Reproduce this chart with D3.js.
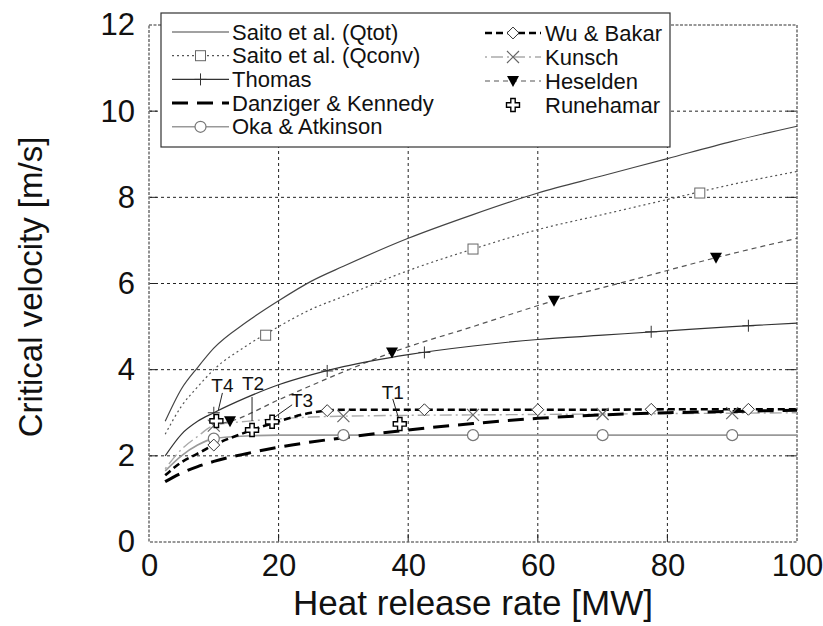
<!DOCTYPE html>
<html>
<head>
<meta charset="utf-8">
<script src="https://cdn.jsdelivr.net/npm/d3@7"></script>
<style>
  body { margin: 0; background: #fff; }
  text { font-family: "Liberation Sans", Arial, sans-serif; fill: #111; }
</style>
</head>
<body>
<div id="chart"></div>
<script>
// values
var heatX      = [2.5, 5, 7.5, 10, 15, 20, 25, 30, 40, 50, 60, 70, 80, 90, 100];
var saitoTot   = [2.8, 3.55, 4.05, 4.5, 5.1, 5.6, 6.05, 6.4, 7.05, 7.6, 8.1, 8.5, 8.9, 9.3, 9.65];
var saitoConv  = [2.5, 3.15, 3.6, 4.0, 4.55, 5.0, 5.4, 5.7, 6.3, 6.8, 7.25, 7.6, 7.95, 8.3, 8.6];
var thomas     = [2.0, 2.5, 2.8, 3.0, 3.35, 3.65, 3.88, 4.07, 4.35, 4.55, 4.7, 4.8, 4.9, 5.0, 5.08];
var danziger   = [1.4, 1.6, 1.75, 1.87, 2.05, 2.2, 2.32, 2.42, 2.6, 2.75, 2.87, 2.95, 3.0, 3.03, 3.06];
var wuBakar    = [1.55, 1.85, 2.05, 2.25, 2.55, 2.8, 3.0, 3.07, 3.07, 3.07, 3.07, 3.07, 3.08, 3.08, 3.08];
var kunsch     = [1.7, 2.15, 2.45, 2.7, 2.8, 2.86, 2.9, 2.92, 2.94, 2.95, 2.96, 2.97, 2.98, 2.99, 3.0];
var oka        = [1.65, 2.0, 2.25, 2.4, 2.46, 2.48, 2.48, 2.48, 2.48, 2.48, 2.48, 2.48, 2.48, 2.48, 2.48];

var heseldenX  = [10, 12.5, 20, 30, 37.5, 50, 62.5, 75, 87.5, 100];
var heselden   = [2.72, 2.8, 3.3, 3.95, 4.4, 5.0, 5.6, 6.1, 6.6, 7.05];

// marker positions
var convMarkX  = [18, 50, 85],                     convMarkY  = [4.8, 6.8, 8.1];
var thomasMarkX = [10, 27.5, 42.5, 77.5, 92.5],    thomasMarkY = [3.0, 3.97, 4.4, 4.88, 5.02];
var wuMarkX    = [10, 27.5, 42.5, 60, 77.5, 92.5], wuMarkY    = [2.25, 3.05, 3.07, 3.07, 3.08, 3.08];
var kunschMarkX = [10, 30, 50, 70, 90],            kunschMarkY = [2.7, 2.92, 2.95, 2.97, 2.99];
var heseldenMarkX = [12.5, 37.5, 62.5, 87.5],      heseldenMarkY = [2.8, 4.4, 5.6, 6.6];
var okaMarkX   = [10, 30, 50, 70, 90],             okaMarkY   = [2.4, 2.48, 2.48, 2.48, 2.48];

var runeNames = ["T1", "T2", "T3", "T4"];
var runeX     = [38.7, 15.9, 19, 10.4];
var runeY     = [2.74, 2.6, 2.79, 2.81];

var xTicks = [0, 20, 40, 60, 80, 100];
var yTicks = [0, 2, 4, 6, 8, 10, 12];

// set the dimensions and margins of the graph
var margin = {top: 25, right: 26, bottom: 84, left: 149},
    width = 823 - margin.left - margin.right,
    height = 626 - margin.top - margin.bottom;

var svg0 = d3.select("#chart")
  .append("svg")
    .attr("width", 823)
    .attr("height", 626);
var svg = svg0.append("g")
    .attr("transform", "translate(" + margin.left + "," + margin.top + ")");

var x = d3.scaleLinear().domain([0, 100]).range([0, width]);
var y = d3.scaleLinear().domain([0, 12]).range([height, 0]);

// grid
svg.selectAll(".vgrid")
  .data(xTicks.slice(1, -1))
  .enter().append("line")
    .attr("x1", function(d) { return x(d); })
    .attr("x2", function(d) { return x(d); })
    .attr("y1", 0).attr("y2", height)
    .attr("stroke", "#222").attr("stroke-width", 1)
    .attr("stroke-dasharray", "3,3");
svg.selectAll(".hgrid")
  .data(yTicks.slice(1, -1))
  .enter().append("line")
    .attr("y1", function(d) { return y(d); })
    .attr("y2", function(d) { return y(d); })
    .attr("x1", 0).attr("x2", width)
    .attr("stroke", "#222").attr("stroke-width", 1)
    .attr("stroke-dasharray", "3,3");

// inner ticks on all sides
yTicks.slice(1, -1).forEach(function(t) {
  svg.append("line").attr("x1", 0).attr("x2", 8).attr("y1", y(t)).attr("y2", y(t)).attr("stroke", "#222");
  svg.append("line").attr("x1", width - 10).attr("x2", width).attr("y1", y(t)).attr("y2", y(t)).attr("stroke", "#222");
});
xTicks.slice(1, -1).forEach(function(t) {
  svg.append("line").attr("y1", height).attr("y2", height - 8).attr("x1", x(t)).attr("x2", x(t)).attr("stroke", "#222");
  svg.append("line").attr("y1", 0).attr("y2", 8).attr("x1", x(t)).attr("x2", x(t)).attr("stroke", "#222");
});

// frame
svg.append("rect")
  .attr("x", 0).attr("y", 0)
  .attr("width", width).attr("height", height)
  .attr("fill", "none")
  .attr("stroke", "#777").attr("stroke-width", 1.6)
  .attr("stroke-dasharray", "3,1.5");

// axis labels (from d3 axes, domain hidden)
var xAxis = svg.append("g")
  .attr("transform", "translate(0," + height + ")")
  .call(d3.axisBottom(x).tickValues(xTicks).tickSize(0).tickPadding(12));
xAxis.select(".domain").remove();
xAxis.selectAll("text").style("font-size", "31px").attr("fill", "#111").attr("dy", "0.72em")
  .attr("font-family", "Liberation Sans, Arial, sans-serif");

var yAxis = svg.append("g")
  .call(d3.axisLeft(y).tickValues(yTicks).tickSize(0).tickPadding(14));
yAxis.select(".domain").remove();
yAxis.selectAll("text").style("font-size", "31px").attr("fill", "#111")
  .attr("font-family", "Liberation Sans, Arial, sans-serif");

svg0.append("text")
  .attr("x", margin.left + width / 2).attr("y", 615)
  .style("text-anchor", "middle")
  .style("font-size", "35px")
  .text("Heat release rate [MW]");

svg0.append("text")
  .attr("transform", "translate(42," + 287 + ") rotate(-90)")
  .style("text-anchor", "middle")
  .style("font-size", "33px")
  .text("Critical velocity [m/s]");

// curves
function curve(xs, ys) {
  return d3.line()
    .x(function(d, i) { return x(xs[i]); })
    .y(function(d) { return y(d); })
    .curve(d3.curveMonotoneX)(ys);
}

var plot = svg.append("g");

var styles = {
  tot:      {stroke: "#444", width: 1.2, dash: null},
  conv:     {stroke: "#555", width: 1.2, dash: "2,3"},
  thomas:   {stroke: "#333", width: 1.2, dash: null},
  danziger: {stroke: "#000", width: 3,   dash: "16,9"},
  oka:      {stroke: "#999", width: 1.6, dash: null},
  wu:       {stroke: "#000", width: 2.6, dash: "7,4"},
  kunsch:   {stroke: "#aaa", width: 1.4, dash: "2,4,12,4"},
  heselden: {stroke: "#555", width: 1.2, dash: "5,4"}
};

function drawLine(xs, ys, st) {
  plot.append("path")
    .attr("d", curve(xs, ys))
    .attr("fill", "none")
    .attr("stroke", st.stroke)
    .attr("stroke-width", st.width)
    .attr("stroke-dasharray", st.dash);
}

drawLine(heatX, oka, styles.oka);
drawLine(heatX, kunsch, styles.kunsch);
drawLine(heatX, danziger, styles.danziger);
drawLine(heatX, wuBakar, styles.wu);
drawLine(heseldenX, heselden, styles.heselden);
drawLine(heatX, thomas, styles.thomas);
drawLine(heatX, saitoConv, styles.conv);
drawLine(heatX, saitoTot, styles.tot);

// marker drawers
function square(g, cx, cy) {
  g.append("rect").attr("x", cx - 5).attr("y", cy - 5).attr("width", 10).attr("height", 10)
    .attr("fill", "#fff").attr("stroke", "#666").attr("stroke-width", 1);
}
function plus(g, cx, cy) {
  g.append("path").attr("d", "M" + (cx - 6) + "," + cy + "H" + (cx + 6) + "M" + cx + "," + (cy - 6) + "V" + (cy + 6))
    .attr("stroke", "#333").attr("stroke-width", 1);
}
function diamond(g, cx, cy) {
  g.append("path").attr("d", d3.symbol().type(d3.symbolDiamond2).size(90)())
    .attr("transform", "translate(" + cx + "," + cy + ")")
    .attr("fill", "#fff").attr("stroke", "#333").attr("stroke-width", 1);
}
function cross(g, cx, cy) {
  g.append("path").attr("d", "M" + (cx - 6) + "," + (cy - 6) + "L" + (cx + 6) + "," + (cy + 6) + "M" + (cx + 6) + "," + (cy - 6) + "L" + (cx - 6) + "," + (cy + 6))
    .attr("stroke", "#666").attr("stroke-width", 1.2);
}
function tri(g, cx, cy) {
  g.append("path").attr("d", "M" + (cx - 6) + "," + (cy - 5) + "H" + (cx + 6) + "L" + cx + "," + (cy + 6) + "Z")
    .attr("fill", "#000");
}
function circ(g, cx, cy) {
  g.append("circle").attr("cx", cx).attr("cy", cy).attr("r", 5.5)
    .attr("fill", "#fff").attr("stroke", "#777").attr("stroke-width", 1.2);
}
function rune(g, cx, cy) {
  var a = 2.2, b = 6.5;
  var p = "M" + (cx - a) + "," + (cy - b) + "H" + (cx + a) + "V" + (cy - a) + "H" + (cx + b) + "V" + (cy + a) +
          "H" + (cx + a) + "V" + (cy + b) + "H" + (cx - a) + "V" + (cy + a) + "H" + (cx - b) + "V" + (cy - a) +
          "H" + (cx - a) + "Z";
  g.append("path").attr("d", p).attr("fill", "#fff").attr("stroke", "#000").attr("stroke-width", 1.4);
}

function drawMarks(xs, ys, fn) {
  xs.forEach(function(d, i) { fn(plot, x(d), y(ys[i])); });
}
drawMarks(okaMarkX, okaMarkY, circ);
drawMarks(kunschMarkX, kunschMarkY, cross);
drawMarks(wuMarkX, wuMarkY, diamond);
drawMarks(heseldenMarkX, heseldenMarkY, tri);
drawMarks(thomasMarkX, thomasMarkY, plus);
drawMarks(convMarkX, convMarkY, square);

// Runehamar test points with labels
var labelOff = {T1: [-7, -32, -7, -25, -1, -5], T2: [1, -47, 0, -33, 0, -9],
                T3: [30, -22, 20, -17, 3, -5], T4: [6, -36, 6, -28, 2, -11]};
runeNames.forEach(function(n, i) {
  var cx = x(runeX[i]), cy = y(runeY[i]), o = labelOff[n];
  plot.append("line")
    .attr("x1", cx + o[2]).attr("y1", cy + o[3])
    .attr("x2", cx + o[4]).attr("y2", cy + o[5])
    .attr("stroke", "#222").attr("stroke-width", 1);
  rune(plot, cx, cy);
  plot.append("text")
    .attr("x", cx + o[0]).attr("y", cy + o[1] + 7)
    .style("text-anchor", "middle")
    .style("font-size", "19px")
    .text(n);
});

// legend
var leg = svg0.append("g");
leg.append("rect")
  .attr("x", 161).attr("y", 13).attr("width", 509).attr("height", 134)
  .attr("fill", "#fff").attr("stroke", "#333").attr("stroke-width", 1.2);

var legLeft = [
  {name: "Saito et al. (Qtot)", st: styles.tot, mark: null},
  {name: "Saito et al. (Qconv)", st: styles.conv, mark: square},
  {name: "Thomas", st: styles.thomas, mark: plus},
  {name: "Danziger & Kennedy", st: styles.danziger, mark: null},
  {name: "Oka & Atkinson", st: styles.oka, mark: circ}
];
var legRight = [
  {name: "Wu & Bakar", st: styles.wu, mark: diamond},
  {name: "Kunsch", st: styles.kunsch, mark: cross},
  {name: "Heselden", st: styles.heselden, mark: tri},
  {name: "Runehamar", st: null, mark: rune}
];

function legendEntry(item, x0, x1, xt, yc) {
  if (item.st) {
    leg.append("line")
      .attr("x1", x0).attr("x2", x1).attr("y1", yc).attr("y2", yc)
      .attr("stroke", item.st.stroke).attr("stroke-width", item.st.width)
      .attr("stroke-dasharray", item.st.dash);
  }
  if (item.mark) item.mark(leg, (x0 + x1) / 2, yc);
  leg.append("text")
    .attr("x", xt).attr("y", yc + 7.5)
    .style("font-size", "22px")
    .text(item.name);
}
legLeft.forEach(function(d, i) { legendEntry(d, 172, 229, 232, 32 + i * 23.7); });
legRight.forEach(function(d, i) { legendEntry(d, 485, 541, 545, 33 + i * 24); });
</script>
</body>
</html>
